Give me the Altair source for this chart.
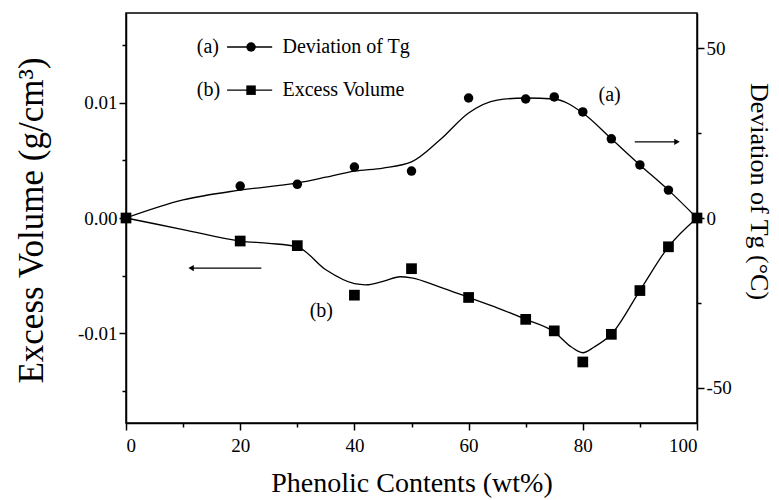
import altair as alt
import pandas as pd

# measured points
x_pts = [0, 20, 30, 40, 50, 60, 70, 75, 80, 85, 90, 95, 100]
tg_pts = [0, 9.4, 9.9, 15.0, 13.8, 35.3, 35.0, 35.6, 31.2, 23.3, 15.6, 8.2, 0]
ev_pts = [0, -0.0020, -0.0024, -0.0067, -0.0044, -0.0069, -0.0088, -0.0098,
          -0.0125, -0.0101, -0.0063, -0.0025, 0]

# fitted curves
tg_curve_x = [0, 10, 20, 30, 35, 40, 45, 50, 55, 60, 65, 70, 75, 80, 85, 90, 95, 100]
tg_curve_y = [0, 5.3, 8.2, 10.3, 12.0, 13.8, 14.7, 16.5, 23.0, 30.9, 34.7, 35.3,
              35.0, 30.9, 23.3, 15.6, 8.2, 0]
ev_curve_x = [0, 10, 20, 25, 30, 35, 40, 42, 45, 48, 50, 55, 60, 65, 70, 75, 78,
              80, 82, 85, 90, 95, 100]
ev_curve_y = [0, -0.0010, -0.0020, -0.0022, -0.0025, -0.0045, -0.0057, -0.0058,
              -0.0055, -0.0051, -0.0052, -0.0060, -0.0069, -0.0078, -0.0088,
              -0.0099, -0.0112, -0.0117, -0.0112, -0.0101, -0.0063, -0.0025, 0]

# legend / annotation
legend_tags = ["(a)", "(b)"]
legend_names = ["Deviation of Tg", "Excess Volume"]
legend_y = [50.3, 37.6]
legend_tag_x = 16.6
legend_line_x = [17.7, 25.6]
legend_sym_x = 21.9
legend_text_x = 27.4

EV_DOM = [-0.0178, 0.0178]
TG_DOM = [-60.3, 60.3]
X_DOM = [0, 100]
FONT = "Liberation Serif"

pts = pd.DataFrame({"x": x_pts, "tg": tg_pts, "ev": ev_pts})
tgc = pd.DataFrame({"x": tg_curve_x, "tg": tg_curve_y})
evc = pd.DataFrame({"x": ev_curve_x, "ev": ev_curve_y})

xenc = alt.X("x:Q", scale=alt.Scale(domain=X_DOM, nice=False, zero=False),
             axis=alt.Axis(values=[0, 10, 20, 30, 40, 50, 60, 70, 80, 90, 100],
                           labelExpr="datum.value % 20 == 0 ? datum.label : ''",
                           tickSize={"condition": {"test": "datum.value % 20 == 0", "value": 7}, "value": 4},
                           title="Phenolic Contents (wt%)", titlePadding=14,
                           titleFontSize=28,
                           labelPadding=6, grid=False))
xplain = alt.X("x:Q", scale=alt.Scale(domain=X_DOM, nice=False, zero=False))

ev_scale = alt.Scale(domain=EV_DOM, nice=False, zero=False)
tg_scale = alt.Scale(domain=TG_DOM, nice=False, zero=False)

ev_axis = alt.Axis(values=[-0.015, -0.01, -0.005, 0, 0.005, 0.01, 0.015],
                   format=".2f",
                   labelExpr="round(abs(datum.value)*200) % 2 == 0 ? replace(datum.label, '\u2212', '-') : ''",
                   tickSize={"condition": {"test": "round(abs(datum.value)*200) % 2 == 0", "value": 7}, "value": 4},
                   title="Excess Volume (g/cm\u00b3)", titlePadding=28, titleFontSize=35,
                   titleY=207,
                   orient="left", grid=False)
tg_axis = alt.Axis(values=[-50, -25, 0, 25, 50],
                   labelExpr="datum.value % 50 == 0 ? replace(datum.label, '\u2212', '-') : ''",
                   tickSize={"condition": {"test": "datum.value % 50 == 0", "value": 7}, "value": 4},
                   title="Deviation of Tg (\u00b0C)", titlePadding=14, titleFontSize=26,
                   titleY=178,
                   orient="right", grid=False)

# ---- left (excess volume) group
ev_line = alt.Chart(evc).mark_line(color="black", strokeWidth=1.3, interpolate="monotone").encode(
    x=xenc, y=alt.Y("ev:Q", scale=ev_scale, axis=ev_axis))
ev_sq = alt.Chart(pts).mark_point(shape="square", filled=True, color="black", size=115, opacity=1).encode(
    x=xplain, y=alt.Y("ev:Q", scale=ev_scale))
larrow = pd.DataFrame({"x": [11.4, 23.7], "ev": [-0.00435, -0.00435]})
larrow_line = alt.Chart(larrow).mark_line(color="black", strokeWidth=1.2).encode(
    x=xplain, y=alt.Y("ev:Q", scale=ev_scale))
larrow_head = alt.Chart(larrow.iloc[[0]]).mark_point(shape="triangle-left", filled=True, color="black", size=40, opacity=1).encode(
    x=xplain, y=alt.Y("ev:Q", scale=ev_scale))
blab = pd.DataFrame({"x": [34.2], "ev": [-0.0081], "t": ["(b)"]})
b_text = alt.Chart(blab).mark_text(font=FONT, fontSize=20, color="black").encode(
    x=xplain, y=alt.Y("ev:Q", scale=ev_scale), text="t:N")
left = alt.layer(ev_line, ev_sq, larrow_line, larrow_head, b_text)

# ---- right (Tg) group
tg_line = alt.Chart(tgc).mark_line(color="black", strokeWidth=1.3, interpolate="monotone").encode(
    x=xplain, y=alt.Y("tg:Q", scale=tg_scale, axis=tg_axis))
tg_dot = alt.Chart(pts).mark_point(shape="circle", filled=True, color="black", size=90, opacity=1).encode(
    x=xplain, y=alt.Y("tg:Q", scale=tg_scale))
rarrow = pd.DataFrame({"x": [89.1, 96.5], "tg": [22.4, 22.4]})
rarrow_line = alt.Chart(rarrow).mark_line(color="black", strokeWidth=1.2).encode(
    x=xplain, y=alt.Y("tg:Q", scale=tg_scale))
rarrow_head = alt.Chart(rarrow.iloc[[1]]).mark_point(shape="triangle-right", filled=True, color="black", size=40, opacity=1).encode(
    x=xplain, y=alt.Y("tg:Q", scale=tg_scale))
alab = pd.DataFrame({"x": [84.7], "tg": [36.2], "t": ["(a)"]})
a_text = alt.Chart(alab).mark_text(font=FONT, fontSize=20, color="black").encode(
    x=xplain, y=alt.Y("tg:Q", scale=tg_scale), text="t:N")

leg = pd.DataFrame({"tag": legend_tags, "name": legend_names, "tg": legend_y,
                    "xt": [legend_tag_x] * 2, "xs": [legend_sym_x] * 2,
                    "xn": [legend_text_x] * 2, "x1": [legend_line_x[0]] * 2,
                    "x2": [legend_line_x[1]] * 2, "shape": ["circle", "square"]})
leg_tag = alt.Chart(leg).mark_text(font=FONT, fontSize=20, color="black", align="left", dx=-24).encode(
    x=alt.X("xt:Q", scale=alt.Scale(domain=X_DOM, nice=False, zero=False)),
    y=alt.Y("tg:Q", scale=tg_scale), text="tag:N")
leg_name = alt.Chart(leg).mark_text(font=FONT, fontSize=20, color="black", align="left").encode(
    x=alt.X("xn:Q", scale=alt.Scale(domain=X_DOM, nice=False, zero=False)),
    y=alt.Y("tg:Q", scale=tg_scale), text="name:N")
leg_line = alt.Chart(leg).mark_rule(color="black", strokeWidth=1.3).encode(
    x=alt.X("x1:Q", scale=alt.Scale(domain=X_DOM, nice=False, zero=False)), x2="x2:Q",
    y=alt.Y("tg:Q", scale=tg_scale))
leg_sym = alt.Chart(leg).mark_point(filled=True, color="black", size=90, opacity=1).encode(
    x=alt.X("xs:Q", scale=alt.Scale(domain=X_DOM, nice=False, zero=False)),
    y=alt.Y("tg:Q", scale=tg_scale),
    shape=alt.Shape("shape:N", scale=alt.Scale(domain=["circle", "square"], range=["circle", "square"]), legend=None))
right = alt.layer(tg_line, tg_dot, rarrow_line, rarrow_head, a_text, leg_line, leg_sym, leg_tag, leg_name)

chart = alt.layer(left, right).resolve_scale(y="independent").properties(
    width=571, height=410,
    autosize=alt.AutoSizeParams(type="none"),
    padding={"left": 126, "top": 13, "right": 82, "bottom": 77},
    background="white",
).configure_view(stroke="black", strokeWidth=1.5).configure_axis(
    domainColor="black", domainWidth=1.5, tickColor="black", tickWidth=1.5,
    labelColor="black", labelFont=FONT, labelFontSize=19,
    titleColor="black", titleFont=FONT, titleFontWeight="normal",
)

chart.save("out.html", embed_options={"renderer": "svg", "actions": False})
